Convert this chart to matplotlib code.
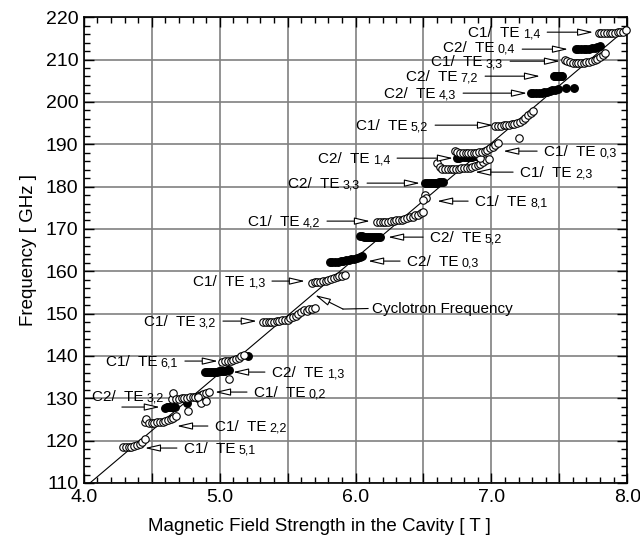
import matplotlib
matplotlib.use('Agg')
import matplotlib.pyplot as plt
from matplotlib.ticker import MultipleLocator, FuncFormatter
from matplotlib.font_manager import FontProperties

plt.rcParams['font.family'] = ['Liberation Sans', 'DejaVu Sans']

# cyclotron frequency line (end points)
cyc_b = [4.045, 8.0]
cyc_f = [110.0, 217.4]

# --- open circles (cavity C1) ---
c1_te51_b = [4.29, 4.31, 4.33, 4.35, 4.37, 4.39, 4.41, 4.43, 4.45]
c1_te51_f = [118.4, 118.5, 118.5, 118.6, 118.8, 119.0, 119.3, 119.7, 120.4]

c1_te22_b = [4.45, 4.46, 4.48, 4.50, 4.52, 4.54, 4.56, 4.58, 4.60, 4.62, 4.64, 4.66, 4.68]
c1_te22_f = [124.3, 125.0, 124.2, 124.1, 124.2, 124.3, 124.4, 124.5, 124.6, 124.8, 125.0, 125.3, 125.8]

c1_te02_b = [4.65, 4.66, 4.68, 4.70, 4.72, 4.74, 4.76, 4.78, 4.80, 4.82, 4.84, 4.86, 4.88, 4.90, 4.92,
             4.77, 4.86, 4.90, 4.84]
c1_te02_f = [129.8, 131.3, 129.9, 129.9, 130.0, 130.0, 130.1, 130.2, 130.3, 130.4, 130.6, 130.8, 131.0, 131.3, 131.5,
             126.9, 128.9, 129.3, 130.3]

c1_te61_b = [5.02, 5.04, 5.06, 5.08, 5.10, 5.12, 5.14, 5.16, 5.18, 5.07]
c1_te61_f = [138.5, 138.7, 138.8, 138.9, 139.1, 139.3, 139.6, 139.9, 140.3, 134.6]

c1_te32_b = [5.32, 5.34, 5.36, 5.38, 5.40, 5.42, 5.44, 5.46, 5.48, 5.50,
             5.52, 5.54, 5.56, 5.58, 5.60, 5.62, 5.64, 5.66, 5.68, 5.70]
c1_te32_f = [148.0, 148.0, 148.0, 148.1, 148.1, 148.2, 148.3, 148.4, 148.5, 148.6,
             148.9, 149.2, 149.5, 149.9, 150.3, 150.8, 150.6, 151.2, 151.0, 151.3]

c1_te13_b = [5.68, 5.70, 5.72, 5.74, 5.76, 5.78, 5.80, 5.82, 5.84, 5.86, 5.88, 5.90, 5.92]
c1_te13_f = [157.3, 157.4, 157.4, 157.5, 157.6, 157.7, 157.9, 158.1, 158.4, 158.7, 158.9, 158.8, 159.1]

c1_te42_b = [6.16, 6.18, 6.20, 6.22, 6.24, 6.26, 6.28, 6.30, 6.32, 6.34, 6.36, 6.38,
             6.40, 6.42, 6.44, 6.46, 6.48, 6.50]
c1_te42_f = [171.7, 171.6, 171.6, 171.7, 171.7, 171.8, 171.9, 172.0, 172.1, 172.2, 172.4, 172.5,
             172.7, 172.9, 173.2, 173.4, 173.7, 174.0]

c1_te81_b = [6.51, 6.52, 6.50]
c1_te81_f = [178.0, 177.4, 176.8]

c1_te23_b = [6.60, 6.62, 6.64, 6.66, 6.68, 6.70, 6.72, 6.74, 6.76, 6.78, 6.80, 6.82,
             6.84, 6.86, 6.88, 6.90, 6.92, 6.94, 6.96, 6.92, 6.98]
c1_te23_f = [185.5, 184.6, 184.2, 184.1, 184.1, 184.1, 184.1, 184.2, 184.2, 184.3, 184.3, 184.4,
             184.5, 184.7, 184.9, 185.1, 185.4, 185.8, 186.2, 186.7, 186.5]

c1_te03_b = [6.73, 6.75, 6.77, 6.79, 6.81, 6.83, 6.85, 6.87, 6.89, 6.91, 6.93, 6.95,
             6.97, 6.99, 7.01, 7.03, 7.05, 7.20]
c1_te03_f = [188.4, 188.1, 188.0, 187.9, 187.9, 187.9, 187.9, 188.0, 188.0, 188.1, 188.2, 188.4,
             188.7, 189.0, 189.4, 189.8, 190.2, 191.4]

c1_te52_b = [7.03, 7.05, 7.07, 7.09, 7.11, 7.13, 7.15, 7.17, 7.19, 7.21, 7.23, 7.25, 7.27, 7.29, 7.31]
c1_te52_f = [194.4, 194.4, 194.4, 194.5, 194.5, 194.6, 194.7, 194.8, 195.0, 195.3, 195.7, 196.2,
             196.8, 197.3, 197.9]

c1_te33_b = [7.54, 7.56, 7.58, 7.60, 7.62, 7.64, 7.66, 7.68, 7.70, 7.72, 7.74, 7.76, 7.78, 7.80, 7.82, 7.84]
c1_te33_f = [209.8, 209.6, 209.3, 209.2, 209.1, 209.1, 209.1, 209.2, 209.3, 209.4, 209.6, 209.9,
             210.2, 210.6, 211.0, 211.5]

c1_te14_b = [7.79, 7.81, 7.83, 7.85, 7.87, 7.89, 7.91, 7.93, 7.95, 7.97, 7.99]
c1_te14_f = [216.2, 216.3, 216.2, 216.3, 216.3, 216.2, 216.3, 216.4, 216.4, 216.5, 216.9]

# --- filled circles (cavity C2) ---
c2_te32_b = [4.60, 4.61, 4.62, 4.63, 4.64, 4.65, 4.66, 4.67]
c2_te32_f = [127.8, 127.9, 127.9, 127.9, 127.9, 127.9, 127.9, 128.0]

c2_extra_b = [4.76, 4.84, 5.21]
c2_extra_f = [128.9, 130.0, 140.0]

c2_te13_b = [4.89, 4.905, 4.92, 4.935, 4.95, 4.965, 4.98, 4.995, 5.01, 5.025, 5.04, 5.055, 5.07]
c2_te13_f = [136.2, 136.2, 136.2, 136.3, 136.3, 136.3, 136.3, 136.4, 136.4, 136.5, 136.5, 136.6, 136.7]

c2_te03_b = [5.81, 5.83, 5.85, 5.87, 5.89, 5.91, 5.93, 5.95, 5.97, 5.99, 6.01, 6.03, 6.05]
c2_te03_f = [162.2, 162.2, 162.3, 162.3, 162.4, 162.5, 162.6, 162.7, 162.8, 163.0, 163.2, 163.4, 163.6]

c2_te52_b = [6.03, 6.045, 6.06, 6.075, 6.09, 6.105, 6.12, 6.135, 6.15, 6.165, 6.18]
c2_te52_f = [168.4, 168.3, 168.2, 168.1, 168.1, 168.0, 168.0, 168.0, 168.0, 168.1, 168.1]

c2_te33_b = [6.51, 6.525, 6.54, 6.555, 6.57, 6.585, 6.60, 6.615, 6.63, 6.645]
c2_te33_f = [180.8, 180.8, 180.8, 180.9, 180.9, 180.9, 180.9, 181.0, 181.0, 181.0]

c2_te14_b = [6.75, 6.765, 6.78, 6.795, 6.81, 6.825, 6.84, 6.855, 6.87, 6.885]
c2_te14_f = [186.8, 186.8, 186.9, 186.9, 186.9, 187.0, 187.0, 187.0, 187.1, 187.1]

c2_te43_b = [7.29, 7.31, 7.33, 7.35, 7.37, 7.39, 7.41, 7.43, 7.45, 7.47, 7.49, 7.55, 7.61]
c2_te43_f = [202.1, 202.1, 202.1, 202.2, 202.2, 202.3, 202.4, 202.5, 202.7, 202.9, 203.1, 203.2, 203.2]

c2_te72_b = [7.46, 7.47, 7.48, 7.49, 7.50, 7.51, 7.52]
c2_te72_f = [206.2, 206.2, 206.2, 206.2, 206.2, 206.2, 206.2]

c2_te04_b = [7.62, 7.64, 7.66, 7.68, 7.70, 7.72, 7.74, 7.76, 7.78, 7.80]
c2_te04_f = [212.4, 212.4, 212.4, 212.5, 212.5, 212.6, 212.7, 212.8, 213.0, 213.2]

open_sets = [(c1_te51_b, c1_te51_f), (c1_te22_b, c1_te22_f), (c1_te02_b, c1_te02_f),
             (c1_te61_b, c1_te61_f), (c1_te32_b, c1_te32_f), (c1_te13_b, c1_te13_f),
             (c1_te42_b, c1_te42_f), (c1_te81_b, c1_te81_f), (c1_te23_b, c1_te23_f),
             (c1_te03_b, c1_te03_f), (c1_te52_b, c1_te52_f), (c1_te33_b, c1_te33_f),
             (c1_te14_b, c1_te14_f)]
filled_sets = [(c2_te32_b, c2_te32_f), (c2_extra_b, c2_extra_f), (c2_te13_b, c2_te13_f),
               (c2_te03_b, c2_te03_f), (c2_te52_b, c2_te52_f), (c2_te33_b, c2_te33_f),
               (c2_te14_b, c2_te14_f), (c2_te43_b, c2_te43_f), (c2_te72_b, c2_te72_f),
               (c2_te04_b, c2_te04_f)]

fig, ax = plt.subplots(figsize=(6.4, 5.37), dpi=100)
fig.subplots_adjust(left=0.131, right=0.980, bottom=0.1006, top=0.968)
renderer = fig.canvas.get_renderer()

ax.plot(cyc_b, cyc_f, color='black', lw=0.8, zorder=2)
for b, f in filled_sets:
    ax.plot(b, f, 'o', ms=5.4, color='black', zorder=3, clip_on=False)
for b, f in open_sets:
    ax.plot(b, f, 'o', ms=5.4, mfc='white', mec='black', mew=0.8, zorder=4, clip_on=False)

ax.set_xlim(4.0, 8.0)
ax.set_ylim(110, 220)

arrow_kw = dict(arrowstyle='-|>,head_length=0.95,head_width=0.22', fc='white', ec='black',
                lw=0.8, shrinkA=0, shrinkB=0)
MAIN_SIZE = 11
SUB_SIZE = 9


def text_width_pt(s, size):
    fp = FontProperties(family=['Liberation Sans'], size=size)
    w, h, d = renderer.get_text_width_height_descent(s, fp, ismath=False)
    return w * 72 / fig.dpi


def mode_label(cav, sub, x, y, side, dx=5, dy=-3.5):
    # main text "C1/ TE" followed by a smaller subscript on nearly the same baseline
    main = f'{cav}/  TE'
    gap = 2.5
    if side == 'R':
        w = text_width_pt(main, MAIN_SIZE)
        ax.annotate(main, xy=(x, y), xytext=(dx, dy), textcoords='offset points',
                    ha='left', va='baseline', fontsize=MAIN_SIZE)
        ax.annotate(sub, xy=(x, y), xytext=(dx + w + gap, dy - 0.5), textcoords='offset points',
                    ha='left', va='baseline', fontsize=SUB_SIZE)
    else:
        w = text_width_pt(sub, SUB_SIZE)
        ax.annotate(sub, xy=(x, y), xytext=(-dx, dy - 0.5), textcoords='offset points',
                    ha='right', va='baseline', fontsize=SUB_SIZE)
        ax.annotate(main, xy=(x, y), xytext=(-dx - w - gap, dy), textcoords='offset points',
                    ha='right', va='baseline', fontsize=MAIN_SIZE)


# (cavity, mode indices, arrow tip B, arrow y, arrow tail B, side of text, text drop)
labels = [
    ('C1', '1,4', 7.750, 216.46, 7.411, 'L', -3.5),
    ('C2', '0,4', 7.565, 212.45, 7.227, 'L', -1.8),
    ('C1', '3,3', 7.506, 209.61, 7.138, 'L', -3.8),
    ('C2', '7,2', 7.359, 206.07, 6.954, 'L', -3.5),
    ('C2', '4,3', 7.263, 202.06, 6.792, 'L', -3.5),
    ('C1', '5,2', 7.013, 194.50, 6.586, 'L', -3.5),
    ('C1', '0,3', 7.087, 188.37, 7.337, 'R', -3.5),
    ('C2', '1,4', 6.718, 186.71, 6.306, 'L', -3.5),
    ('C1', '2,3', 6.880, 183.41, 7.160, 'R', -3.5),
    ('C2', '3,3', 6.475, 180.81, 6.085, 'L', -3.5),
    ('C1', '8,1', 6.600, 176.56, 6.829, 'R', -3.5),
    ('C1', '4,2', 6.107, 171.84, 5.790, 'L', -3.5),
    ('C2', '5,2', 6.239, 168.06, 6.497, 'R', -3.5),
    ('C2', '0,3', 6.092, 162.40, 6.328, 'R', -3.5),
    ('C1', '1,3', 5.628, 157.68, 5.385, 'L', -3.5),
    ('C1', '3,2', 5.274, 148.23, 5.024, 'L', -3.5),
    ('C1', '6,1', 4.987, 138.79, 4.744, 'L', -3.5),
    ('C2', '1,3', 5.098, 136.19, 5.333, 'R', -3.5),
    ('C1', '0,2', 4.965, 131.47, 5.201, 'R', -3.5),
    ('C1', '2,2', 4.685, 123.45, 4.913, 'R', -3.5),
    ('C1', '5,1', 4.449, 118.25, 4.685, 'R', -3.5),
]
for cav, sub, tip, y, tail, side, drop in labels:
    ax.annotate('', xy=(tip, y), xytext=(tail, y), arrowprops=arrow_kw, zorder=5)
    mode_label(cav, sub, tail, y, side, dy=drop)

# C2/TE3,2 label sits above its arrow
ax.annotate('', xy=(4.560, 127.93), xytext=(4.280, 127.93), arrowprops=arrow_kw, zorder=5)
mode_label('C2', '3,2', 4.06, 129.35, 'R', dx=0, dy=0)

# Cyclotron frequency pointer
ax.annotate('', xy=(5.702, 154.37), xytext=(5.908, 151.07), arrowprops=arrow_kw, zorder=5)
ax.plot([5.908, 6.092], [151.07, 151.2], color='black', lw=0.8)
ax.text(6.125, 150.1, 'Cyclotron Frequency', ha='left', va='baseline', fontsize=11)

ax.xaxis.set_major_locator(MultipleLocator(0.5))
ax.xaxis.set_minor_locator(MultipleLocator(0.1))
ax.xaxis.set_major_formatter(FuncFormatter(lambda v, p: f'{v:.1f}' if abs(v - round(v)) < 1e-6 else ''))
ax.yaxis.set_major_locator(MultipleLocator(10))
ax.yaxis.set_minor_locator(MultipleLocator(2))
ax.tick_params(which='both', direction='in', top=True, right=True, width=1, labelsize=14)
ax.tick_params(which='major', length=7, pad=4)
ax.tick_params(which='minor', length=4)
ax.grid(which='major', color='#808080', lw=1.2)
ax.set_axisbelow(True)
for s in ax.spines.values():
    s.set_linewidth(1.2)

ax.set_xlabel('Magnetic Field Strength in the Cavity [ T ]', fontsize=13.5, labelpad=5)
ax.xaxis.set_label_coords(0.433, -0.075)
ax.set_ylabel('Frequency [ GHz ]', fontsize=13.5, labelpad=6)

fig.savefig('out.png', dpi=100)
